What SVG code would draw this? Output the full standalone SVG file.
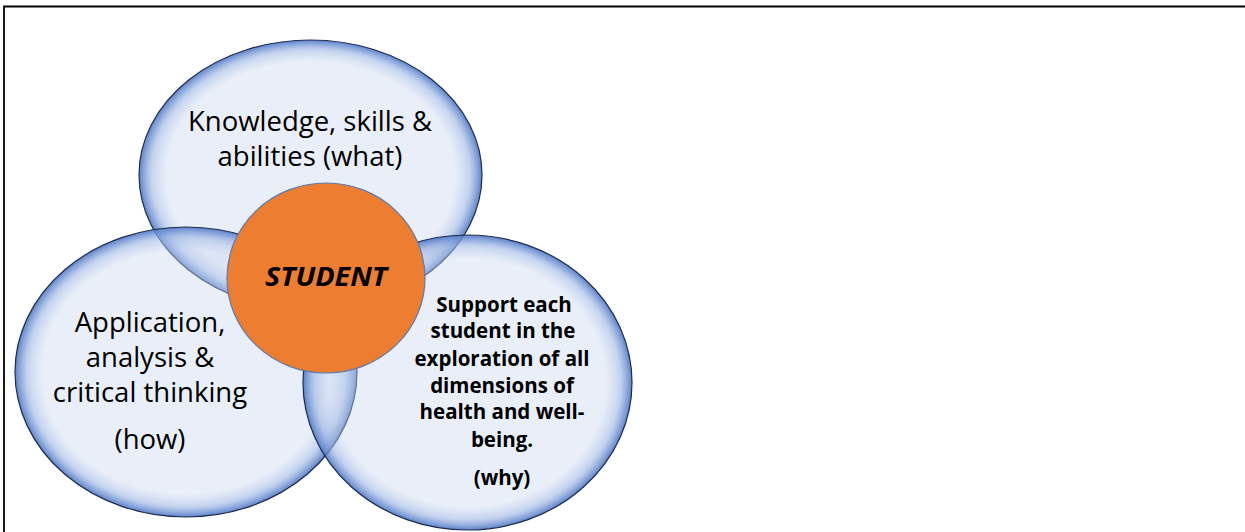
<svg xmlns="http://www.w3.org/2000/svg" width="1245" height="532" viewBox="0 0 1245 532">
  <defs>
    <!-- translucent pale-blue fill with a soft blue rim on the inside -->
    <radialGradient id="bubble" cx="0.5" cy="0.5" r="0.5">
      <stop offset="0" stop-color="#c8d6ee" stop-opacity="0.4"/>
      <stop offset="0.84" stop-color="#c8d6ee" stop-opacity="0.4"/>
      <stop offset="0.93" stop-color="#9db6e4" stop-opacity="0.62"/>
      <stop offset="1" stop-color="#4f78c6" stop-opacity="0.92"/>
    </radialGradient>
  </defs>
  <style>
    .bubble { fill: url(#bubble); stroke: #1e2d4d; stroke-width: 1.2; }
    .core { fill: #ed7d31; stroke: #5b7bb0; stroke-width: 1.2; }
    .lbl { font-family: "Open Sans", "Noto Sans", "Liberation Sans", sans-serif; fill: #000; text-anchor: middle; }
    .big { font-size: 27.5px; }
    .small { font-size: 20.5px; font-weight: bold; }
    .core-lbl { font-size: 26px; font-weight: bold; font-style: italic; }
  </style>

  <rect width="1245" height="532" fill="#ffffff"/>
  <!-- frame: top and left rules only -->
  <path d="M4 532 V6.5 H1245" fill="none" stroke="#000" stroke-width="1.8"/>

  <g id="what">
    <ellipse class="bubble" cx="310.5" cy="175" rx="171.5" ry="135"/>
    <text class="lbl big" x="310" y="131">Knowledge, skills &amp;</text>
    <text class="lbl big" x="310" y="166">abilities (what)</text>
  </g>

  <g id="how">
    <ellipse class="bubble" cx="186" cy="372" rx="171" ry="145"/>
    <text class="lbl big" x="150" y="332">Application,</text>
    <text class="lbl big" x="150" y="367">analysis &amp;</text>
    <text class="lbl big" x="150" y="402">critical thinking</text>
    <text class="lbl big" x="150" y="449">(how)</text>
  </g>

  <g id="why">
    <ellipse class="bubble" cx="467.5" cy="382.5" rx="164.5" ry="147.5"/>
    <text class="lbl small" x="504" y="312">Support each</text>
    <text class="lbl small" x="503" y="338">student in the</text>
    <text class="lbl small" x="502" y="366">exploration of all</text>
    <text class="lbl small" x="502" y="393">dimensions of</text>
    <text class="lbl small" x="502" y="419">health and well-</text>
    <text class="lbl small" x="502" y="447">being.</text>
    <text class="lbl small" x="502" y="485">(why)</text>
  </g>

  <g id="student">
    <ellipse class="core" cx="326" cy="278" rx="99" ry="95"/>
    <text class="lbl core-lbl" x="326" y="286" textLength="122" lengthAdjust="spacingAndGlyphs">STUDENT</text>
  </g>
</svg>
